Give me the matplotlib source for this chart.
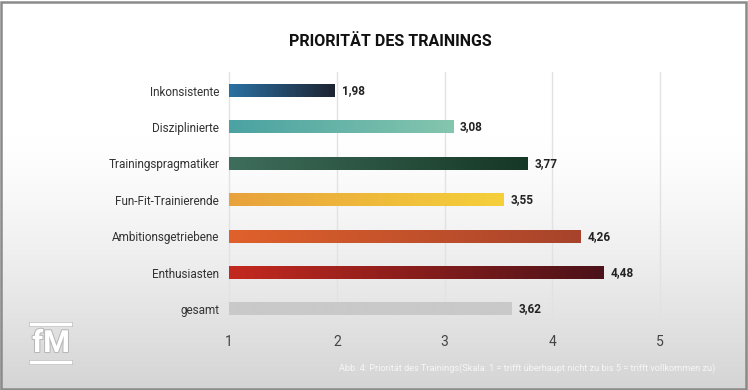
import numpy as np
import matplotlib.pyplot as plt
from matplotlib.colors import to_rgb
from matplotlib.patches import Rectangle
import matplotlib.patheffects as pe

# Daten
kategorien = ["Inkonsistente", "Disziplinierte", "Trainingspragmatiker",
              "Fun-Fit-Trainierende", "Ambitionsgetriebene", "Enthusiasten", "gesamt"]
werte = [1.98, 3.08, 3.77, 3.55, 4.26, 4.48, 3.62]
farbe_start = ["#2b71a3", "#4aa2a2", "#3f6e5c", "#e8a23c", "#e0612b", "#c4291f", "#c9c9c9"]
farbe_ende = ["#1d2331", "#85c6ae", "#163725", "#f5d03a", "#a7432b", "#4b1219", "#c9c9c9"]
xticks = [1, 2, 3, 4, 5]

rob = ["Roboto", "DejaVu Sans"]
W, H = 748, 390

fig = plt.figure(figsize=(W / 100, H / 100), dpi=100)

# Hintergrund mit Verlauf nach unten
bg = fig.add_axes([0, 0, 1, 1], zorder=-5)
t = np.clip((np.linspace(0, 1, 390) - 0.35) / 0.65, 0, 1) ** 1.3
col = 1 - t[:, None] * (1 - np.array(to_rgb("#d4d4d4")))[None, :]
bg.imshow(np.repeat(col[:, None, :], 2, axis=1), extent=[0, 1, 0, 1], aspect="auto")
bg.set_xlim(0, 1)
bg.set_ylim(0, 1)
bg.axis("off")
bg.add_patch(Rectangle((0.001, 0.003), 0.996, 0.993, fill=False, ec="#8a8a8a", lw=1.8))

# Hauptdiagramm
px = 107.75
left = 229 - 0.02 * px
ax = fig.add_axes([left / W, 1 - 325 / H, 4.04 * px / W, (325 - 72) / H])
ax.set_facecolor("none")
h = 0.357

for i, v in enumerate(werte):
    c0 = np.array(to_rgb(farbe_start[i]))
    c1 = np.array(to_rgb(farbe_ende[i]))
    g = np.linspace(0, 1, 256)[:, None]
    arr = (c0 * (1 - g) + c1 * g)[None, :, :]
    ax.imshow(arr, extent=[1, v, i + h / 2, i - h / 2], aspect="auto",
              interpolation="bilinear", zorder=2)
    ax.annotate(f"{v:.2f}".replace(".", ","), (v, i), xytext=(5, 0),
                textcoords="offset points", ha="left", va="center",
                fontsize=8.5, fontweight="bold", color="#222222",
                family=rob, zorder=3)

ax.set_xlim(0.98, 5.02)
ax.set_ylim(6.44, -0.51)
ax.set_xticks(xticks)
ax.set_xticklabels([str(x) for x in xticks], family=rob, fontsize=10, color="#444444")
ax.set_yticks(range(len(kategorien)))
ax.set_yticklabels(kategorien, family=rob, fontsize=8.5, color="#333333")
ax.tick_params(axis="x", length=0, pad=7)
ax.tick_params(axis="y", length=0, pad=5.5)
ax.grid(axis="x", color="#e2e2e2", lw=1)
ax.set_axisbelow(True)
for s in ax.spines.values():
    s.set_visible(False)

# Titel
fig.text(390 / W, 1 - 42 / H, "PRIORITÄT DES TRAININGS", ha="center", va="center",
         fontsize=11.5, fontweight="bold", color="#111111", family=rob)

# Bildunterschrift
fig.text(715 / W, 1 - 368 / H,
         "Abb. 4: Priorität des Trainings(Skala: 1 = trifft überhaupt nicht zu bis 5 = trifft vollkommen zu)",
         ha="right", va="center", fontsize=6.6, color="#f6f6f6", family=rob)

# Logo
fig.text(51 / W, 1 - 343 / H, "fM", ha="center", va="center", fontsize=22,
         fontweight="bold", color="white", family=rob,
         path_effects=[pe.withStroke(linewidth=1.5, foreground="#b8b8b8")])
for yy in (323.5, 361.5):
    ln = plt.Line2D([31 / W, 70 / W], [1 - yy / H, 1 - yy / H], transform=fig.transFigure,
                    color="white", lw=2.5, path_effects=[pe.withStroke(linewidth=3.5, foreground="#bcbcbc")])
    fig.add_artist(ln)

fig.savefig("out.png", dpi=100)
